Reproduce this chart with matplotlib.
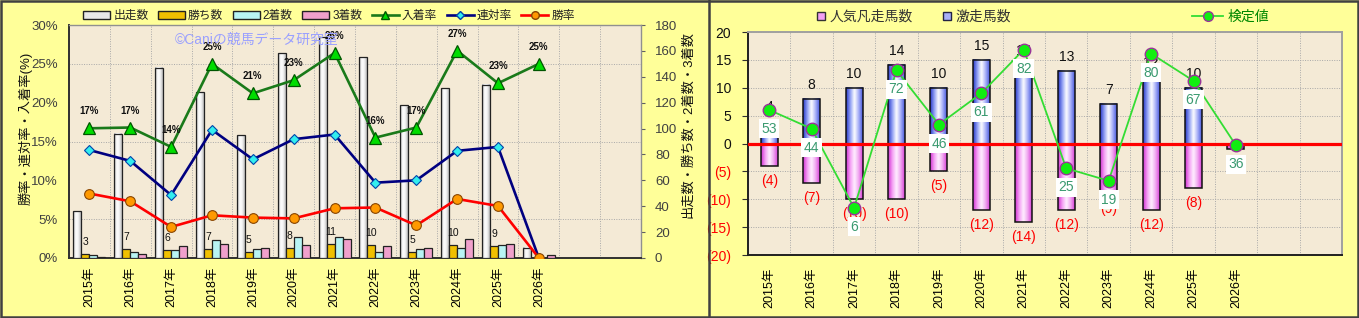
import numpy as np
import matplotlib
matplotlib.use('Agg')
import matplotlib.pyplot as plt
from matplotlib.colors import LinearSegmentedColormap
from matplotlib.lines import Line2D
from matplotlib.patches import Patch

plt.rcParams['font.family'] = ['Liberation Sans', 'Noto Sans CJK JP', 'DejaVu Sans']

# ---------------- data ----------------
years = ['2015年', '2016年', '2017年', '2018年', '2019年', '2020年',
         '2021年', '2022年', '2023年', '2024年', '2025年', '2026年']
runs = [36, 96, 147, 128, 95, 158, 171, 155, 118, 131, 134, 8]
wins = [3, 7, 6, 7, 5, 8, 11, 10, 5, 10, 9, 0]
seconds = [2, 5, 6, 14, 7, 16, 16, 5, 7, 8, 10, 0]
thirds = [1, 3, 9, 11, 8, 10, 15, 9, 8, 15, 11, 2]
place_rate = [16.7, 16.8, 14.3, 25.0, 21.2, 22.9, 26.4, 15.5, 16.8, 26.7, 22.5, 25.0]
quinella_rate = [13.9, 12.5, 8.1, 16.5, 12.7, 15.3, 15.9, 9.7, 10.0, 13.8, 14.3, 0.0]
win_rate = [8.3, 7.3, 4.0, 5.5, 5.2, 5.1, 6.4, 6.5, 4.2, 7.6, 6.7, 0.0]
place_labels = ['17%', '17%', '14%', '25%', '21%', '23%', '26%', '16%', '17%', '27%', '23%', '25%']

hot_runners = [4, 8, 10, 14, 10, 15, 14, 13, 7, 12, 10, 0]
flop_runners = [-4, -7, -10, -10, -5, -12, -14, -12, -9, -12, -8, -1]
test_values = [53, 44, 6, 72, 46, 61, 82, 25, 19, 80, 67, 36]

pct_ticks = [0, 5, 10, 15, 20, 25, 30]
count_ticks = [0, 20, 40, 60, 80, 100, 120, 140, 160, 180]
right_ticks = [-20, -15, -10, -5, 0, 5, 10, 15, 20]
n_slots = 14

# ---------------- figure ----------------
W, H = 1359, 318
fig = plt.figure(figsize=(W / 100, H / 100), dpi=100)
fig.patch.set_facecolor('#FFFF99')


def rect(x0, y0, x1, y1):
    return [x0 / W, 1 - y1 / H, (x1 - x0) / W, (y1 - y0) / H]


def fx(x):
    return x / W


def fy(y):
    return 1 - y / H


def gradient_fill(ax, bars, colors):
    cmap = LinearSegmentedColormap.from_list('g', colors)
    grad = np.linspace(0, 1, 64).reshape(1, -1)
    xl, yl = ax.get_xlim(), ax.get_ylim()
    for b in bars:
        h = b.get_height()
        if h == 0:
            continue
        x0 = b.get_x()
        w = b.get_width()
        y0 = b.get_y()
        ax.imshow(grad, cmap=cmap, aspect='auto', interpolation='bicubic',
                  extent=[x0, x0 + w, min(y0, y0 + h), max(y0, y0 + h)],
                  zorder=b.get_zorder() - 0.1)
    ax.set_xlim(xl)
    ax.set_ylim(yl)


grid_kw = dict(color='#A8A8A8', linestyle=(0, (1, 1.5)), linewidth=0.7)
axis_bg = '#F4EAD6'
x = np.arange(len(years))

# ================= LEFT PANEL =================
axB = fig.add_axes(rect(69, 25, 641, 258))
axB.set_facecolor(axis_bg)
axB.set_xlim(-0.5, n_slots - 0.5)
axB.set_ylim(0, 180)
axL = axB.twinx()

bw = 0.195
b_runs = axB.bar(x - 1.5 * bw, runs, bw, facecolor='none', edgecolor='#222222', linewidth=0.9, zorder=3)
b_wins = axB.bar(x - 0.5 * bw, wins, bw, color='#F0C000', edgecolor='#222222', linewidth=0.9, zorder=3)
b_sec = axB.bar(x + 0.5 * bw, seconds, bw, color='#B8F4F4', edgecolor='#222222', linewidth=0.9, zorder=3)
b_thr = axB.bar(x + 1.5 * bw, thirds, bw, color='#F0A0CC', edgecolor='#222222', linewidth=0.9, zorder=3)
gradient_fill(axB, b_runs, ['#A8A8A8', '#FFFFFF', '#F4F4F4', '#B8B8B8'])

for xi, w in zip(x, wins):
    if w > 0:
        axB.annotate(str(w), (xi - 0.5 * bw, w), xytext=(0, 12), textcoords='offset pixels',
                     ha='center', va='center', fontsize=7.5, color='#111111', zorder=5)

axB.set_yticks(count_ticks)
axB.set_yticklabels([str(v) for v in count_ticks])
axB.set_yticks([v * 6 for v in pct_ticks], minor=True)
axB.set_xticks(x)
axB.set_xticklabels(years, rotation=90, fontsize=9)
axB.set_xticks(np.arange(-0.5, n_slots, 1.0), minor=True)
axB.tick_params(axis='x', which='major', length=0, pad=6)
axB.tick_params(which='minor', length=0)
axB.grid(which='minor', **grid_kw)
axB.grid(which='major', visible=False)
axB.set_axisbelow(True)
for s in ['top', 'right']:
    axB.spines[s].set_color('#909090')
    axB.spines[s].set_linewidth(1.0)
for s in ['left', 'bottom']:
    axB.spines[s].set_color('#303030')
    axB.spines[s].set_linewidth(1.4)
axB.yaxis.tick_right()
axB.tick_params(axis='y', which='major', left=False, labelleft=False, right=True, labelright=True,
                length=3, pad=7, labelsize=9.5, labelcolor='#404040', color='#606060', direction='out')
axB.tick_params(axis='y', which='minor', left=False, right=False, length=0)

axL.set_ylim(0, 30)
axL.set_yticks(pct_ticks)
axL.set_yticklabels([f'{v}%' for v in pct_ticks])
axL.yaxis.tick_left()
axL.tick_params(axis='y', left=True, labelleft=True, right=False, labelright=False,
                length=0, pad=8, labelsize=9.5, labelcolor='#404040')
for s in axL.spines.values():
    s.set_visible(False)

axL.plot(x, place_rate, color='#1A7A1A', linewidth=1.9, marker='^', markersize=9,
         markerfacecolor='#00DD00', markeredgecolor='#005500', markeredgewidth=0.9, zorder=4)
axL.plot(x, quinella_rate, color='#000080', linewidth=1.9, marker='D', markersize=5.5,
         markerfacecolor='#33EEEE', markeredgecolor='#0044AA', markeredgewidth=0.8, zorder=4)
axL.plot(x, win_rate, color='#FF0000', linewidth=1.9, marker='o', markersize=7,
         markerfacecolor='#FF9900', markeredgecolor='#884400', markeredgewidth=0.8, zorder=4)
for xi, v, lab in zip(x, place_rate, place_labels):
    axL.annotate(lab, (xi, v), xytext=(0, 17), textcoords='offset pixels', ha='center',
                 va='center', fontsize=7, fontweight='bold', color='#111111', zorder=5)

fig.text(fx(257), fy(40), '©Caniの競馬データ研究室', ha='center', va='center',
         fontsize=10, color='#9AA0FF')

fig.text(fx(25), fy(128), '勝率・連対率・入着率(%)', rotation=90, ha='center', va='center',
         fontsize=9.5, color='#111111')
fig.text(fx(688), fy(125), '出走数・勝ち数・2着数・3着数', rotation=90, ha='center', va='center',
         fontsize=9.5, color='#111111')

handlesL = [
    Patch(facecolor='#E8E8E8', edgecolor='#222222', label='出走数'),
    Patch(facecolor='#F0C000', edgecolor='#222222', label='勝ち数'),
    Patch(facecolor='#B8F4F4', edgecolor='#222222', label='2着数'),
    Patch(facecolor='#F0A0CC', edgecolor='#222222', label='3着数'),
    Line2D([], [], color='#1A7A1A', linewidth=1.9, marker='^', markersize=6,
           markerfacecolor='#00DD00', markeredgecolor='#005500', label='入着率'),
    Line2D([], [], color='#000080', linewidth=1.9, marker='D', markersize=4,
           markerfacecolor='#33EEEE', markeredgecolor='#0044AA', label='連対率'),
    Line2D([], [], color='#FF0000', linewidth=1.9, marker='o', markersize=5.5,
           markerfacecolor='#FF9900', markeredgecolor='#884400', label='勝率'),
]
legL = fig.legend(handles=handlesL, loc='center', bbox_to_anchor=(fx(329), fy(16)), ncol=7,
                  frameon=False, fontsize=8.5, handlelength=2.3, handleheight=0.6,
                  handletextpad=0.25, columnspacing=0.8, borderaxespad=0, borderpad=0)
for t in legL.get_texts():
    t.set_color('#222222')

# ================= RIGHT PANEL =================
axR = fig.add_axes(rect(748, 32, 1342, 255))
axR.set_facecolor(axis_bg)
axR.set_xlim(-0.5, n_slots - 0.5)
axR.set_ylim(-20, 20)
axS = axR.twinx()

rbw = 0.4
b_hot = axR.bar(x, hot_runners, rbw, facecolor='none', edgecolor='#111111', linewidth=1.1, zorder=3)
b_flop = axR.bar(x, flop_runners, rbw, facecolor='none', edgecolor='#111111', linewidth=1.1, zorder=3)
gradient_fill(axR, b_hot, ['#2838C8', '#90A0F4', '#FFFFFF', '#A8B0F8', '#4858DC'])
gradient_fill(axR, b_flop, ['#D030D0', '#F4A0F4', '#FFF0FF', '#F0A8F0', '#D840D8'])
axR.axhline(0, color='#FF0000', linewidth=2.3, zorder=4)

for xi, v in zip(x, hot_runners):
    if v > 0:
        axR.annotate(str(v), (xi, v), xytext=(0, 14), textcoords='offset pixels', ha='center',
                     va='center', fontsize=10, color='#111111', zorder=5)
for xi, v in zip(x, flop_runners):
    if v < 0:
        axR.annotate(f'({-v})', (xi, v), xytext=(0, -15), textcoords='offset pixels', ha='center',
                     va='center', fontsize=10, color='#FF0000', zorder=5)

axR.set_yticks(right_ticks)
axR.set_yticklabels([str(v) if v >= 0 else f'({-v})' for v in right_ticks])
for lab, v in zip(axR.get_yticklabels(), right_ticks):
    lab.set_color('#FF0000' if v < 0 else '#111111')
axR.yaxis.tick_left()
axR.tick_params(axis='y', left=True, labelleft=True, right=False, labelright=False,
                length=4, pad=8, labelsize=10, color='#303030', direction='out')
axR.set_xticks(x)
axR.set_xticklabels(years, rotation=90, fontsize=9)
axR.set_xticks(np.arange(-0.5, n_slots, 1.0), minor=True)
axR.tick_params(axis='x', which='major', length=0, pad=9)
axR.tick_params(axis='x', which='minor', length=0)
axR.grid(axis='x', which='minor', **grid_kw)
axR.grid(axis='y', which='major', **grid_kw)
axR.grid(axis='x', which='major', visible=False)
axR.set_axisbelow(True)
for s in ['top', 'right']:
    axR.spines[s].set_color('#A0A0A0')
    axR.spines[s].set_linewidth(1.4)
for s in ['left', 'bottom']:
    axR.spines[s].set_color('#202020')
    axR.spines[s].set_linewidth(1.4)

axS.set_ylim(-16.6, 90.4)
axS.set_yticks([])
axS.tick_params(axis='y', left=False, right=False, labelleft=False, labelright=False)
for s in axS.spines.values():
    s.set_visible(False)
axS.plot(x, test_values, color='#33DD33', linewidth=1.3, marker='o', markersize=9,
         markerfacecolor='#11EE11', markeredgecolor='#993399', markeredgewidth=1.0, zorder=4)
for xi, v in zip(x, test_values):
    axS.annotate(str(v), (xi, v), xytext=(0, -19), textcoords='offset pixels', ha='center',
                 va='center', fontsize=10, color='#3A9A70', zorder=6,
                 bbox=dict(boxstyle='square,pad=0.18', facecolor='white', edgecolor='none'))

handlesR = [
    Line2D([], [], linestyle='none', marker='s', markersize=6, markerfacecolor='#F4A0F4',
           markeredgecolor='#333333', label='人気凡走馬数'),
    Line2D([], [], linestyle='none', marker='s', markersize=6, markerfacecolor='#A8B0F8',
           markeredgecolor='#222244', label='激走馬数'),
]
legR = fig.legend(handles=handlesR, loc='center', bbox_to_anchor=(fx(914), fy(17)), ncol=2,
                  frameon=False, fontsize=10, handlelength=0.6, handletextpad=0.3,
                  columnspacing=2.2, borderaxespad=0, borderpad=0)
for t in legR.get_texts():
    t.set_color('#333333')
legS = fig.legend(handles=[Line2D([], [], color='#33DD33', linewidth=1.3, marker='o', markersize=7,
                                  markerfacecolor='#11EE11', markeredgecolor='#993399',
                                  label='検定値')],
                  loc='center', bbox_to_anchor=(fx(1231), fy(17)), frameon=False, fontsize=10,
                  handlelength=2.2, handletextpad=0.35, borderaxespad=0, borderpad=0)
for t in legS.get_texts():
    t.set_color('#008800')

# borders
fig.add_artist(plt.Rectangle((0.0008, 0.002), 0.9985, 0.995, transform=fig.transFigure,
                             fill=False, edgecolor='#404040', linewidth=1.8))
fig.add_artist(Line2D([fx(709), fx(709)], [0, 1], transform=fig.transFigure,
                      color='#404040', linewidth=1.8))

fig.savefig('out.png', dpi=100, facecolor=fig.get_facecolor())
